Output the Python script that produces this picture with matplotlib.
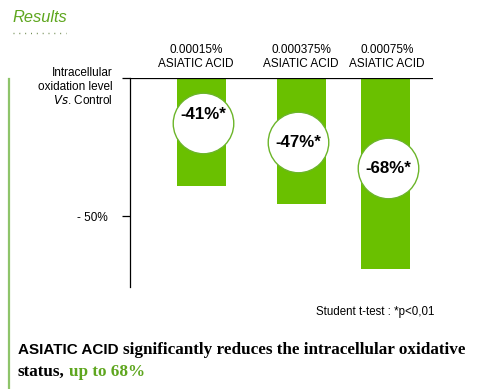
import matplotlib
matplotlib.use("Agg")
import matplotlib.pyplot as plt
from matplotlib.lines import Line2D

# ---- data ----
categories = ["0.00015%\nASIATIC ACID", "0.000375%\nASIATIC ACID", "0.00075%\nASIATIC ACID"]
values = [-39, -45.5, -69]
value_labels = ["-41%*", "-47%*", "-68%*"]
ytick_values = [0, -50]
ytick_labels = ["", "- 50%"]

# ---- layout ----
W, H = 498, 389
xpos = [0.0, 1.0, 1.84]
circle_y = [-16.3, -23.2, -32.6]
circle_dx = [0.015, -0.035, 0.025]
text_dy = [3.0, 0.0, 0.0]
GREEN = "#6ac000"
TXT_GREEN = "#5ea61e"

fig = plt.figure(figsize=(W / 100, H / 100), dpi=100)
fig.patch.set_facecolor("white")

def fx(px):
    return px / W

def fy(py):
    return 1 - py / H

ax = fig.add_axes([fx(130), fy(287), (433 - 130) / W, (287 - 78) / H])
ax.set_xlim(-0.715, 2.315)
ax.set_ylim(-75.7, 0)

ax.bar(xpos, values, width=0.49, color=GREEN, zorder=2)
ax.axhline(0, color="black", lw=0.9, zorder=3)

for sp in ["top", "right", "bottom"]:
    ax.spines[sp].set_visible(False)
ax.spines["left"].set_linewidth(0.9)
ax.set_xticks([])
ax.set_yticks(ytick_values)
ax.set_yticklabels(ytick_labels, fontfamily="Liberation Sans", fontsize=8.5)
ax.tick_params(axis="y", length=6, width=0.9, pad=10)

# circles with labels
for x, cy, dx, dy, lab in zip(xpos, circle_y, circle_dx, text_dy, value_labels):
    ax.scatter([x + dx], [cy], s=1900, facecolor="white", edgecolor="#6cb52a",
               linewidth=1.0, zorder=4, clip_on=False)
    ax.text(x + dx, cy + dy, lab, ha="center", va="center", fontsize=12.2,
            fontweight="bold", fontfamily="Liberation Sans", zorder=5)

# category labels above bars
cat_x = [196, 301, 387]
for cx, c in zip(cat_x, categories):
    fig.text(fx(cx), fy(57), c, ha="center", va="center", fontsize=8.5,
             fontfamily="Liberation Sans", linespacing=1.15)

# y-axis description
fig.text(fx(113), fy(73), "Intracellular", ha="right", va="center", fontsize=8.5,
         fontfamily="Liberation Sans")
fig.text(fx(113), fy(87), "oxidation level", ha="right", va="center", fontsize=8.5,
         fontfamily="Liberation Sans")
fig.text(fx(113), fy(101), "$\\it{Vs}$. Control", ha="right", va="center", fontsize=8.5,
         fontfamily="Liberation Sans")

# title
fig.text(fx(12), fy(17), "Results", ha="left", va="center", fontsize=11.8,
         style="italic", color=TXT_GREEN, fontfamily="Liberation Sans")
fig.add_artist(Line2D([fx(13), fx(66)], [fy(33), fy(33)], color="#6f8a50",
                      lw=1.0, linestyle=(0, (0.7, 3.5))))

# left green bar
fig.add_artist(Line2D([fx(9), fx(9)], [fy(79), fy(389)], color="#8ec46a", lw=1.6))

# footnote
fig.text(fx(316), fy(312), "Student t-test : *p<0,01", ha="left", va="center",
         fontsize=8.3, fontfamily="Liberation Sans")

# conclusion text
fig.canvas.draw()
r = fig.canvas.get_renderer()
t1 = fig.text(fx(18), fy(350), "ASIATIC ACID", ha="left", va="center", fontsize=11,
              fontweight="bold", fontfamily="Liberation Sans")
bb = t1.get_window_extent(renderer=r)
fig.text(bb.x1 / W + fx(4), fy(350), "significantly reduces the intracellular oxidative",
         ha="left", va="center", fontsize=12.3, fontweight="bold",
         fontfamily="Liberation Serif")
t3 = fig.text(fx(18), fy(372), "status,", ha="left", va="center", fontsize=12.3,
              fontweight="bold", fontfamily="Liberation Serif")
bb3 = t3.get_window_extent(renderer=r)
fig.text(bb3.x1 / W + fx(4), fy(372), "up to 68%", ha="left", va="center", fontsize=12.3,
         fontweight="bold", fontfamily="Liberation Serif", color=TXT_GREEN)

fig.savefig("out.png", dpi=100, facecolor="white")
